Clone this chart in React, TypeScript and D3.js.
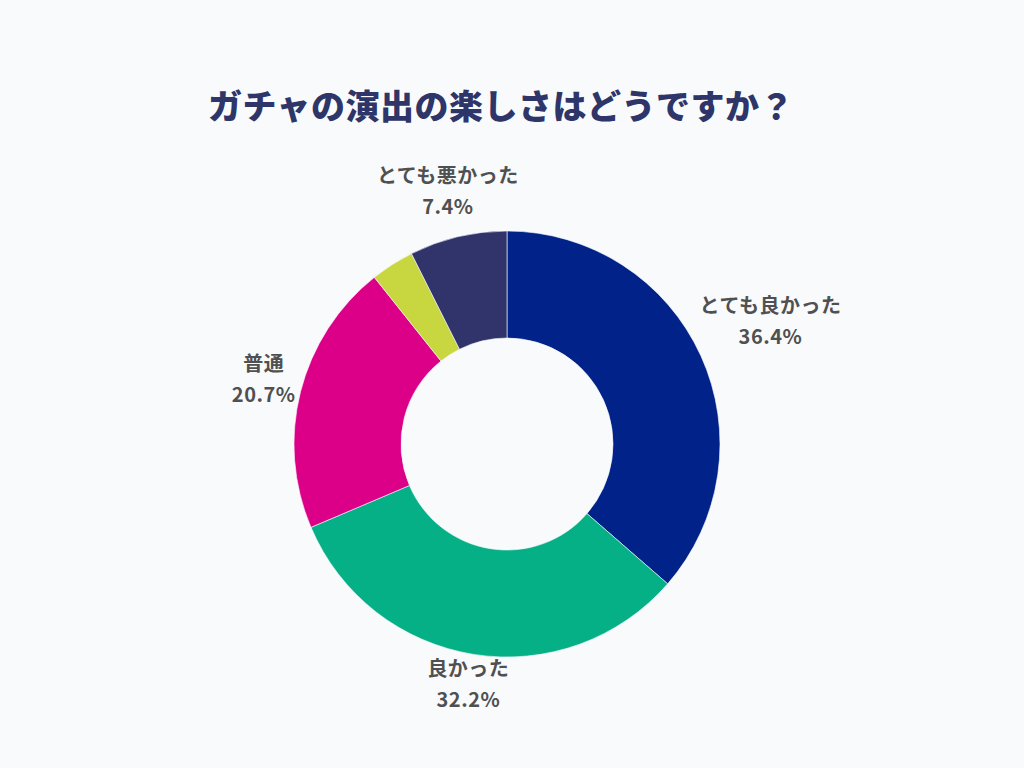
import React from "react";
import * as d3 from "d3";

const title = "ガチャの演出の楽しさはどうですか？";
const categories = ["とても良かった", "良かった", "普通", "悪かった", "とても悪かった"];
const values = [36.4, 32.2, 20.7, 3.3, 7.4];
const showLabel = [true, true, true, false, true];
const colors = ["#012288", "#05B087", "#DC0088", "#C8D73F", "#30346A"];

const W = 1024;
const H = 768;
const cx = 507;
const cy = 444;
const outerR = 213;
const innerR = 106;
const labelFont = 20;
const lineH = 31;
const FONT = "'Noto Sans CJK JP', 'Noto Sans', sans-serif";

function measure(text: string, size: number): number {
  if (typeof document === "undefined") return text.length * size;
  const c = document.createElement("canvas");
  const ctx = c.getContext("2d");
  if (!ctx) return text.length * size;
  ctx.font = `bold ${size}px ${FONT}`;
  return ctx.measureText(text).width;
}

export default function App() {
  const data = categories.map((c, i) => ({ c, v: values[i], i }));
  const pie = d3.pie<any>().value((d) => d.v).sort(null);
  const arcs = pie(data);
  const arc = d3.arc<any>().innerRadius(innerR).outerRadius(outerR);

  return (
    <div style={{ position: "fixed", left: 0, top: 0, width: W, height: H, background: "#F8FAFC" }}>
      <svg width={W} height={H} style={{ display: "block" }}>
        <rect width={W} height={H} fill="#F8FAFC" />
        <text
          x={501}
          y={119}
          textAnchor="middle"
          fontFamily={FONT}
          fontWeight={900}
          fontSize={34}
          fill="#2E3568"
          letterSpacing={0.5}
        >
          {title}
        </text>
        <g transform={`translate(${cx},${cy})`}>
          {arcs.map((a, i) => (
            <path key={i} d={arc(a) as string} fill={colors[i]} stroke="#F8FAFC" strokeWidth={0.6} />
          ))}
          {arcs.map((a, i) => {
            if (!showLabel[i]) return null;
            const mid = (a.startAngle + a.endAngle) / 2;
            const dx = Math.sin(mid);
            const dy = -Math.cos(mid);
            const l1 = categories[i];
            const l2 = `${values[i].toFixed(1)}%`;
            const halfW = Math.max(measure(l1, labelFont), measure(l2, labelFont)) / 2;
            const halfH = 26;
            const ext = halfW * Math.abs(dx) + halfH * Math.abs(dy);
            const r = outerR + 2 + ext;
            const x = dx * r;
            const y = dy * r;
            return (
              <text
                key={"l" + i}
                textAnchor="middle"
                fontFamily={FONT}
                fontWeight={700}
                fontSize={labelFont}
                fill="#505050"
                letterSpacing={0.5}
              >
                <tspan x={x} y={y - lineH / 2 + 4}>{l1}</tspan>
                <tspan x={x} y={y + lineH / 2 + 4}>{l2}</tspan>
              </text>
            );
          })}
        </g>
      </svg>
    </div>
  );
}
